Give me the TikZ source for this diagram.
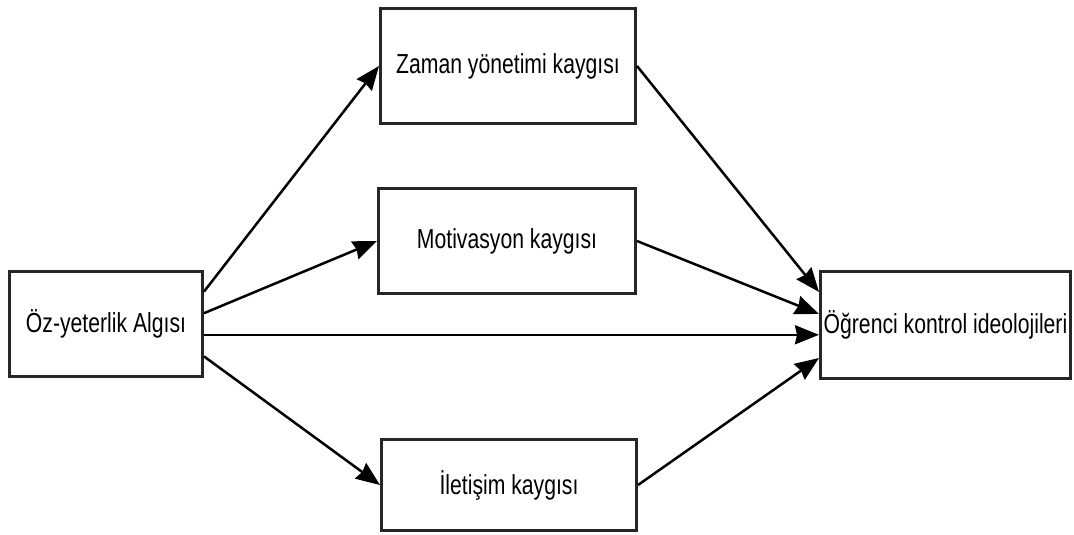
\documentclass[tikz,border=0pt]{standalone}
\usepackage{fontspec}
\setmainfont{Liberation Sans}[FakeStretch=0.77]
\usetikzlibrary{arrows.meta,calc}

\tikzset{
  box/.style={draw=black!85, line width=3pt, fill=white, inner sep=0pt,
    font=\fontsize{27.5}{32}\selectfont, text=black},
  link/.style={draw=black, line width=2.5pt,
    -{Stealth[length=24pt,width=19pt,inset=2pt]}},
}

\begin{document}
\begin{tikzpicture}[x=1pt,y=-1pt]
  \useasboundingbox (0,0) rectangle (1074,535);

  % boxes
  \node[box, minimum width=193pt, minimum height=105pt] (oz)  at (106,324)   {Öz-yeterlik Algısı};
  \node[box, minimum width=255pt, minimum height=115pt] (zam) at (508,66)    {Zaman yönetimi kaygısı};
  \node[box, minimum width=257pt, minimum height=105pt] (mot) at (507,241)   {Motivasyon kaygısı};
  \node[box, minimum width=255pt, minimum height=91pt]  (ile) at (509,485)   {İletişim kaygısı};
  \node[box, minimum width=250pt, minimum height=107pt] (ogr) at (945.5,325) {Öğrenci kontrol ideolojileri};

  % anchor points spread along the outer boxes' sides
  \coordinate (o1) at ($(oz.north east)!0.2!(oz.south east)$);
  \coordinate (o2) at ($(oz.north east)!0.4!(oz.south east)$);
  \coordinate (o3) at ($(oz.north east)!0.6!(oz.south east)$);
  \coordinate (o4) at ($(oz.north east)!0.8!(oz.south east)$);
  \coordinate (g1) at ($(ogr.north west)!0.2!(ogr.south west)$);
  \coordinate (g2) at ($(ogr.north west)!0.4!(ogr.south west)$);
  \coordinate (g3) at ($(ogr.north west)!0.6!(ogr.south west)$);
  \coordinate (g4) at ($(ogr.north west)!0.8!(ogr.south west)$);

  % paths
  \draw[link] (o1) -- (zam.west);
  \draw[link] (o2) -- (mot.west);
  \draw[link] (o3) -- (o3 -| ogr.west);
  \draw[link] (o4) -- (ile.west);
  \draw[link] (zam.east) -- (g1);
  \draw[link] (mot.east) -- (g2);
  \draw[link] (ile.east) -- (g4);
\end{tikzpicture}
\end{document}
